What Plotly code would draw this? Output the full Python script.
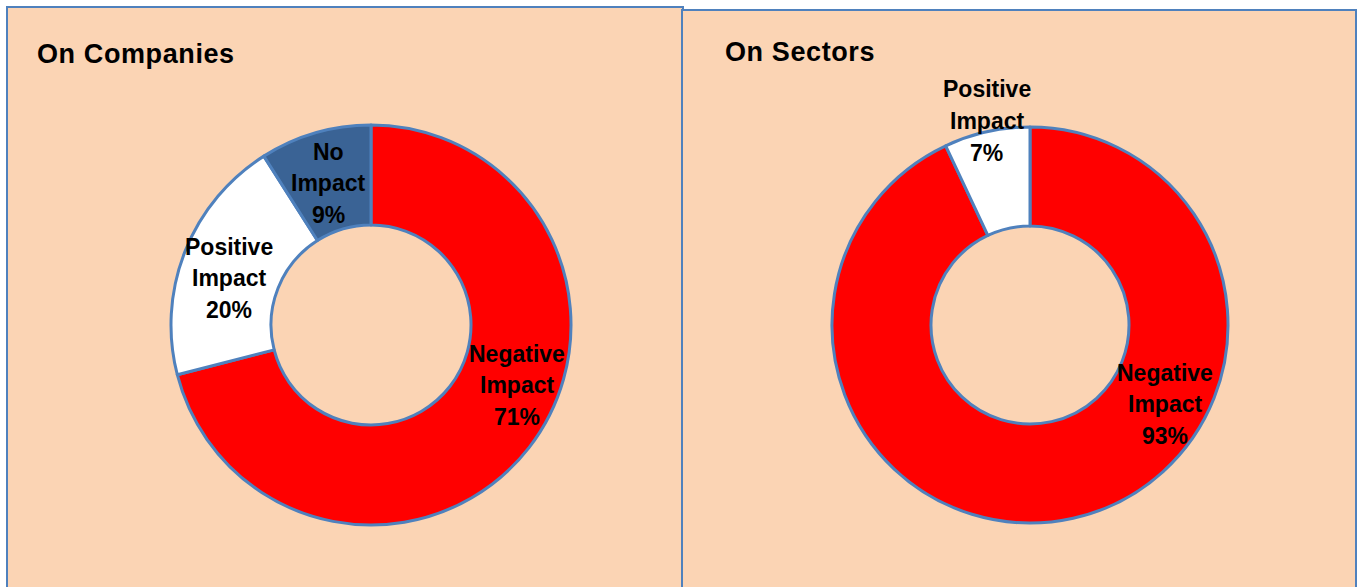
import plotly.graph_objects as go

W, H = 1369, 587

# ---- data ----
companies_labels = ["Negative Impact", "Positive Impact", "No Impact"]
companies_values = [71, 20, 9]
sectors_labels = ["Negative Impact", "Positive Impact"]
sectors_values = [93, 7]
panel_titles = ["On Companies", "On Sectors"]

companies_colors = ["#FF0000", "#FFFFFF", "#3A6395"]
sectors_colors = ["#FF0000", "#FFFFFF"]

BG = "#FBD4B4"
EDGE = "#4F81BD"
LABEL_FONT = "Liberation Sans, Arial, sans-serif"
LINE_GAP = 31.5


def px_domain(cx, cy, r):
    return dict(x=[(cx - r) / W, (cx + r) / W], y=[(H - cy - r) / H, (H - cy + r) / H])


fig = go.Figure()
fig.add_trace(go.Pie(
    labels=companies_labels, values=companies_values, hole=0.5, sort=False,
    direction="clockwise", rotation=0, textinfo="none", hoverinfo="label+percent",
    marker=dict(colors=companies_colors, line=dict(color=EDGE, width=3)),
    domain=px_domain(371, 325, 200), showlegend=False,
))
fig.add_trace(go.Pie(
    labels=sectors_labels, values=sectors_values, hole=0.5, sort=False,
    direction="clockwise", rotation=0, textinfo="none", hoverinfo="label+percent",
    marker=dict(colors=sectors_colors, line=dict(color=EDGE, width=3)),
    domain=px_domain(1030, 325, 198), showlegend=False,
))

shapes = [
    dict(type="rect", xref="paper", yref="paper", x0=7 / W, x1=683 / W, y0=-0.02, y1=(H - 7) / H,
         fillcolor=BG, line=dict(color=EDGE, width=2), layer="below"),
    dict(type="rect", xref="paper", yref="paper", x0=682 / W, x1=1356 / W, y0=-0.02, y1=(H - 10) / H,
         fillcolor=BG, line=dict(color=EDGE, width=2), layer="below"),
]

annotations = []


def add_label(name, v, x, y):
    lines = name.split(" ") + [f"{v}%"]
    n = len(lines)
    for i, line in enumerate(lines):
        yy = y + (i - (n - 1) / 2) * LINE_GAP
        annotations.append(dict(
            text=f"<b>{line}</b>", x=x / W, y=(H - yy) / H, xref="paper", yref="paper",
            xanchor="center", yanchor="middle", showarrow=False, align="center",
            font=dict(family=LABEL_FONT, size=23, color="#000000"),
        ))


comp_pos = [(517, 385), (229, 278), (328, 183)]
for (lab, v), (x, y) in zip(zip(companies_labels, companies_values), comp_pos):
    add_label(lab, v, x, y)

sect_pos = [(1165, 404), (987, 121)]
for (lab, v), (x, y) in zip(zip(sectors_labels, sectors_values), sect_pos):
    add_label(lab, v, x, y)

title_pos = [(35, 54), (723, 52)]
for t, (x, y) in zip(panel_titles, title_pos):
    annotations.append(dict(
        text=f"<b><span style='letter-spacing:0.6px'>{t}</span></b>",
        x=x / W, y=(H - y) / H, xref="paper", yref="paper",
        xanchor="left", yanchor="middle", showarrow=False,
        font=dict(family=LABEL_FONT, size=27, color="#000000"),
    ))

fig.update_layout(
    width=W, height=H, margin=dict(l=0, r=0, t=0, b=0),
    paper_bgcolor="#FFFFFF", plot_bgcolor="#FFFFFF",
    shapes=shapes, annotations=annotations,
)

fig.write_html(
    "out.html",
    config={"displayModeBar": False},
    post_script="document.body.style.margin='0';document.body.style.overflow='hidden';",
)
